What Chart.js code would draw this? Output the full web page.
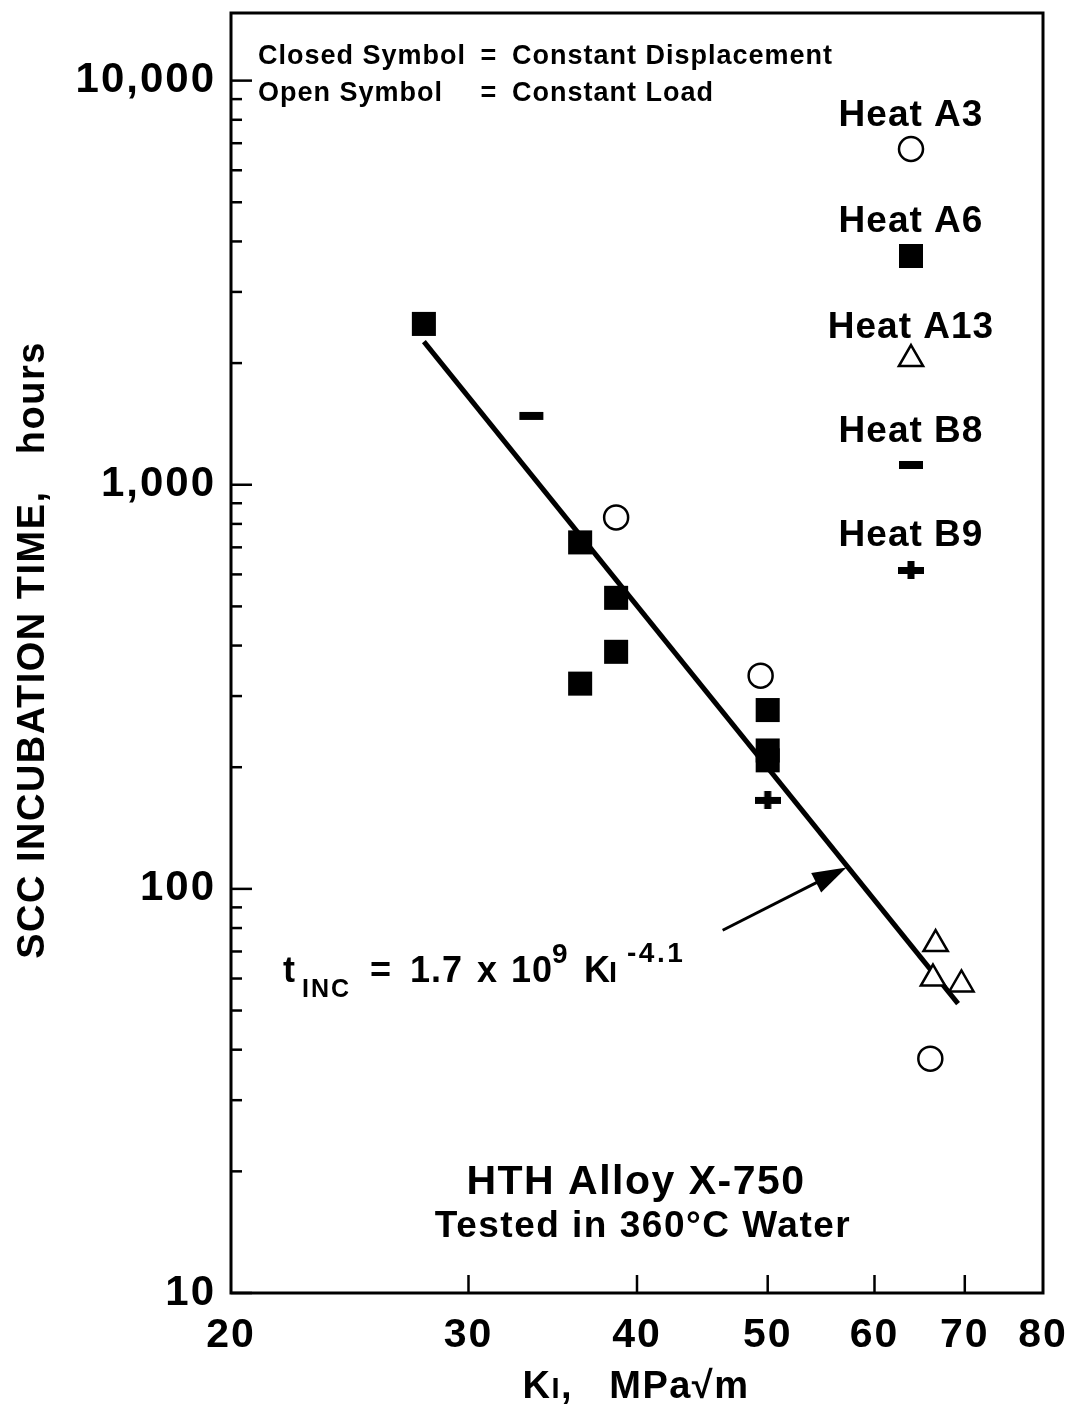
<!DOCTYPE html>
<html><head><meta charset="utf-8">
<script src="https://cdn.jsdelivr.net/npm/chart.js@4.4.1/dist/chart.umd.min.js"></script>
<style>html,body{margin:0;padding:0;background:#fff;}canvas{display:block;}</style>
</head><body>
<canvas id="c" width="1070" height="1408"></canvas>
<script>
// ---- data ----
const xTicks = [20, 30, 40, 50, 60, 70, 80];
const yTicks = [10, 100, 1000, 10000];
const yTickLabels = ['10', '100', '1,000', '10,000'];

const heatA3K = [38.6, 49.4, 66.0];
const heatA3T = [830, 337, 38];
const heatA6K = [27.8, 36.3, 38.6, 38.6, 36.3, 50.0, 50.0, 50.0];
const heatA6T = [2500, 720, 525, 386, 322, 277, 220, 208];
const heatA13K = [66.6, 66.3, 69.6];
const heatA13T = [73, 60, 58];
const heatB8K = [33.4];
const heatB8T = [1480];
const heatB9K = [50.0];
const heatB9T = [166];

const fitK = [27.8, 69.2];
const fitT = [2260, 52];
const arrowK = [46.3, 57.2];
const arrowT = [79, 113];

const legendNames = ['Heat A3', 'Heat A6', 'Heat A13', 'Heat B8', 'Heat B9'];
const FONT = '"Liberation Sans", Arial, Helvetica, sans-serif';

function pts(k, t) { return k.map((v, i) => ({x: v, y: t[i]})); }

function plusImg() {
  const c = document.createElement('canvas');
  c.width = 26; c.height = 18;
  const g = c.getContext('2d');
  g.fillStyle = '#000';
  g.fillRect(0, 6, 26, 7);
  g.fillRect(9.5, 0, 7, 18);
  return c;
}
const PLUS = plusImg();

const styles = [
  {pointStyle: 'circle', pointRadius: 12, borderWidth: 2.5, backgroundColor: '#fff', borderColor: '#000'},
  {pointStyle: 'rect', pointRadius: 17, borderWidth: 0, backgroundColor: '#000', borderColor: '#000'},
  {pointStyle: 'triangle', pointRadius: 14, borderWidth: 2.5, backgroundColor: '#fff', borderColor: '#000'},
  {pointStyle: 'line', pointRadius: 12, borderWidth: 8, backgroundColor: '#000', borderColor: '#000'},
  {pointStyle: PLUS, pointRadius: 13, borderWidth: 0, backgroundColor: '#000', borderColor: '#000'}
];

function spaced(ctx, px) { ctx.letterSpacing = px + 'px'; }

const annot = {
  id: 'annot',
  beforeDraw(chart) { chart.ctx.letterSpacing = '2px'; },
  afterDatasetsDraw(chart) {
    const {ctx, chartArea: a, scales: {x, y}} = chart;
    ctx.save();
    ctx.strokeStyle = '#000'; ctx.fillStyle = '#000';
    ctx.lineCap = 'butt';
    ctx.lineWidth = 3;
    ctx.strokeRect(a.left, a.top, a.right - a.left, a.bottom - a.top);
    ctx.lineWidth = 2.5;
    for (let d = 10; d <= 10000; d *= 10) {
      for (let m = 1; m <= 9; m++) {
        const v = d * m;
        if (v > y.max) break;
        const py = y.getPixelForValue(v);
        const len = m === 1 ? 21 : 11;
        ctx.beginPath(); ctx.moveTo(a.left, py); ctx.lineTo(a.left + len, py); ctx.stroke();
      }
    }
    xTicks.slice(1, -1).forEach(v => {
      const px = x.getPixelForValue(v);
      ctx.beginPath(); ctx.moveTo(px, a.bottom); ctx.lineTo(px, a.bottom - 18); ctx.stroke();
    });

    // arrow
    const x0 = x.getPixelForValue(arrowK[0]), y0 = y.getPixelForValue(arrowT[0]);
    const x1 = x.getPixelForValue(arrowK[1]), y1 = y.getPixelForValue(arrowT[1]);
    const ang = Math.atan2(y1 - y0, x1 - x0);
    const hl = 34, hw = 11;
    const cs = Math.cos(ang), sn = Math.sin(ang);
    ctx.lineWidth = 3;
    ctx.beginPath(); ctx.moveTo(x0, y0); ctx.lineTo(x1 - cs * hl * 0.7, y1 - sn * hl * 0.7); ctx.stroke();
    ctx.beginPath();
    ctx.moveTo(x1, y1);
    ctx.lineTo(x1 - cs * hl - sn * hw, y1 - sn * hl + cs * hw);
    ctx.lineTo(x1 - cs * hl + sn * hw, y1 - sn * hl - cs * hw);
    ctx.closePath(); ctx.fill();

    ctx.textBaseline = 'alphabetic';
    // header key
    spaced(ctx, 1);
    ctx.font = 'bold 27px ' + FONT;
    ctx.textAlign = 'left';
    ctx.fillText('Closed Symbol', 258, 64);
    ctx.fillText('Open Symbol', 258, 101);
    ctx.textAlign = 'center';
    ctx.fillText('=', 489, 64);
    ctx.fillText('=', 489, 101);
    ctx.textAlign = 'left';
    ctx.fillText('Constant Displacement', 512, 64);
    ctx.fillText('Constant Load', 512, 101);

    // heat legend
    const cx = 911;
    const textBase = [126, 232, 338, 442, 546];
    const symY = [149, 256, 359, 465, 570];
    spaced(ctx, 1);
    ctx.font = 'bold 37px ' + FONT;
    ctx.textAlign = 'center';
    legendNames.forEach((n, i) => {
      ctx.fillText(n, cx, textBase[i]);
      const s = styles[i];
      ctx.save();
      ctx.lineWidth = s.borderWidth; ctx.strokeStyle = s.borderColor; ctx.fillStyle = s.backgroundColor;
      Chart.helpers.drawPoint(ctx, {pointStyle: s.pointStyle, radius: s.pointRadius, borderWidth: s.borderWidth, rotation: 0}, cx, symY[i]);
      ctx.restore();
    });

    // alloy title
    spaced(ctx, 1.5);
    ctx.font = 'bold 41px ' + FONT;
    ctx.fillText('HTH Alloy X-750', 636, 1194);
    ctx.font = 'bold 37px ' + FONT;
    ctx.fillText('Tested in 360\u00B0C Water', 643, 1237);

    // equation
    ctx.textAlign = 'left';
    const eb = 982;
    const big = 'bold 36px ' + FONT, sub = 'bold 25px ' + FONT, sup = 'bold 28px ' + FONT;
    const eq = [
      ['t', big, 283, 0, 1], ['INC', sub, 302, 15, 2], ['=', big, 370, 0, 1], ['1.7', big, 410, 0, 1],
      ['x', big, 477, 0, 1], ['10', big, 511, 0, 1], ['9', sup, 552, -19, 1], ['K', big, 584, 0, 1],
      ['I', 'bold 29px ' + FONT, 609, 0, 1], ['-4.1', sup, 627, -20, 2.5]
    ];
    eq.forEach(e => { spaced(ctx, e[4]); ctx.font = e[1]; ctx.fillText(e[0], e[2], eb + e[3]); });

    // axis titles
    ctx.save();
    ctx.translate(34, 650);
    ctx.rotate(-Math.PI / 2);
    ctx.textAlign = 'center'; ctx.textBaseline = 'middle';
    spaced(ctx, 1.5);
    ctx.font = 'bold 38px ' + FONT;
    ctx.fillText('SCC INCUBATION TIME,   hours', 0, 0);
    ctx.restore();

    ctx.textAlign = 'left';
    spaced(ctx, 1.5);
    const parts = [['K', 'bold 38px ' + FONT], ['I', 'bold 29px ' + FONT], [',   MPa\u221Am', 'bold 38px ' + FONT]];
    let tw = 0;
    parts.forEach(p => { ctx.font = p[1]; tw += ctx.measureText(p[0]).width; });
    let tx = 636 - tw / 2;
    parts.forEach(p => { ctx.font = p[1]; ctx.fillText(p[0], tx, 1398); tx += ctx.measureText(p[0]).width; });
    ctx.restore();
  }
};

const datasets = [
  {label: 'Heat A3', data: pts(heatA3K, heatA3T), ...styles[0]},
  {label: 'Heat A6', data: pts(heatA6K, heatA6T), ...styles[1]},
  {label: 'Heat A13', data: pts(heatA13K, heatA13T), ...styles[2]},
  {label: 'Heat B8', data: pts(heatB8K, heatB8T), ...styles[3]},
  {label: 'Heat B9', data: pts(heatB9K, heatB9T), ...styles[4]},
  {label: 'fit', type: 'line', data: pts(fitK, fitT), showLine: true, pointRadius: 0,
   borderColor: '#000', borderWidth: 5, fill: false}
];
datasets.forEach(d => { d.pointHoverRadius = d.pointRadius; d.clip = false; });

new Chart(document.getElementById('c'), {
  type: 'scatter',
  data: {datasets},
  options: {
    responsive: false,
    animation: false,
    events: [],
    layout: {autoPadding: false, padding: {top: 13, right: 27, left: 0, bottom: 0}},
    plugins: {legend: {display: false}, tooltip: {enabled: false}},
    scales: {
      x: {
        type: 'logarithmic', min: 20, max: 80,
        afterBuildTicks: s => { s.ticks = xTicks.map(v => ({value: v})); },
        afterFit: s => { s.height = 115; s.paddingLeft = 0; s.paddingRight = 0; },
        grid: {display: false, drawTicks: false},
        border: {display: false},
        ticks: {
          autoSkip: false, maxRotation: 0, minRotation: 0, padding: 18, color: '#000',
          font: {family: FONT, size: 41, weight: 'bold'},
          callback: v => String(v)
        }
      },
      y: {
        type: 'logarithmic', min: 10, max: 14700,
        afterBuildTicks: s => { s.ticks = yTicks.map(v => ({value: v})); },
        afterFit: s => { s.width = 231; s.paddingTop = 0; s.paddingBottom = 0; },
        grid: {display: false, drawTicks: false},
        border: {display: false},
        ticks: {
          autoSkip: false, padding: 15, color: '#000',
          font: {family: FONT, size: 42, weight: 'bold'},
          callback: v => { const i = yTicks.indexOf(v); return i >= 0 ? yTickLabels[i] : ''; }
        }
      }
    }
  },
  plugins: [annot]
});
</script>
</body></html>
